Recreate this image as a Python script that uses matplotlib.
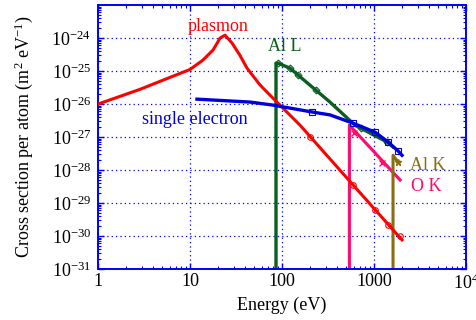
"""Inelastic cross sections per atom: plasmon, single electron and core edges."""

import math

import matplotlib

matplotlib.use("Agg")
import matplotlib.pyplot as plt
from matplotlib.ticker import FixedLocator, FuncFormatter, LogLocator, NullFormatter

plt.rcParams["font.family"] = ["Liberation Serif", "DejaVu Serif"]
plt.rcParams["mathtext.fontset"] = "custom"
plt.rcParams["mathtext.rm"] = "Liberation Serif"
plt.rcParams["mathtext.it"] = "Liberation Serif:italic"
plt.rcParams["axes.unicode_minus"] = False

# plasmon curve (eV, m^2/eV)
plasmon_e = [1.0, 2.86, 4.38, 6.53, 10.0, 13.8, 17.8, 21.2, 24.0, 28.6, 34.9,
             41.6, 57.6, 79.8, 157, 591, 2015]
plasmon_s = [1.0e-26, 2.8e-26, 4.5e-26, 7.0e-26, 1.12e-25, 2.15e-25, 4.35e-25,
             1.0e-24, 1.23e-24, 7.1e-25, 3.0e-25, 1.23e-25, 3.8e-26, 1.51e-26,
             2.29e-27, 3.55e-29, 7.6e-31]
plasmon_mk_e = [201, 591, 1025, 1419, 1918]
plasmon_mk_s = [1.0e-27, 3.55e-29, 6.2e-30, 2.14e-30, 1.0e-30]

# single-electron curve
single_e = [11.9, 44.9, 79.8, 212, 332, 591, 1025, 1419, 1824, 2015]
single_s = [1.41e-26, 1.15e-26, 9.3e-27, 5.75e-27, 4.7e-27, 2.63e-27,
            1.41e-27, 7.1e-28, 3.8e-28, 2.8e-28]
single_mk_e = [212, 591, 1025, 1419, 1824]
single_mk_s = [5.75e-27, 2.63e-27, 1.41e-27, 7.1e-28, 3.8e-28]

# Al L edge
all_e = [86, 86, 90, 122, 149, 234, 332, 621, 1383, 1609]
all_s = [1e-31, 1.74e-25, 1.74e-25, 1.23e-25, 7.6e-26, 2.63e-26, 1.15e-26,
         2.29e-27, 7.1e-28, 5.0e-28]
all_mk_e = [90, 122, 149, 234, 720, 1383]
all_mk_s = [1.74e-25, 1.23e-25, 7.6e-26, 2.63e-26, 1.9e-27, 7.1e-28]

# O K edge
ok_e = [540, 540, 1918]
ok_s = [1e-31, 2.29e-27, 5.0e-29]
ok_mk_e = [606, 1222]
ok_mk_s = [1.32e-27, 1.62e-28]

# Al K edge
alk_e = [1609, 1609, 1824]
alk_s = [1e-31, 2.8e-28, 1.74e-28]

BLUE = "#0000ff"
RED = "#ff0000"
LINE_BLUE = "#0000dd"
GREEN = "#0b5e1f"
PINK = "#ff0a6e"
OLIVE = "#8a6d12"

fig = plt.figure(figsize=(4.77, 3.2), dpi=100)
ax = fig.add_axes([0.2055, 0.1594, 0.7715, 0.8246])

ax.plot(plasmon_e, plasmon_s, color=RED, lw=2.2, zorder=3)
ax.plot(plasmon_mk_e, plasmon_mk_s, ls="none", marker="o", ms=4, mfc="none",
        mec=RED, mew=0.8, zorder=3)
ax.plot(single_e, single_s, color=LINE_BLUE, lw=2.4, zorder=3)
ax.plot(single_mk_e, single_mk_s, ls="none", marker="s", ms=5, mfc="none",
        mec=LINE_BLUE, mew=0.8, zorder=3)
ax.plot(all_e, all_s, color=GREEN, lw=2.4, zorder=2)
ax.plot(all_mk_e, all_mk_s, ls="none", marker="D", ms=3.5, mfc="none",
        mec=GREEN, mew=0.8, zorder=2)
ax.plot(ok_e, ok_s, color=PINK, lw=2.2, zorder=2)
ax.plot(ok_mk_e, ok_mk_s, ls="none", marker="x", ms=5, mec=PINK, mew=1, zorder=2)
ax.plot(alk_e, alk_s, color=OLIVE, lw=2.2, zorder=2)
ax.plot(alk_e[-1:], alk_s[-1:], ls="none", marker="*", ms=5, color=OLIVE, zorder=2)

ax.set_xscale("log")
ax.set_yscale("log")
ax.set_xlim(1, 1e4)
ax.set_ylim(1e-31, 1e-23)

ax.xaxis.set_major_locator(FixedLocator([1, 10, 100, 1000, 1e4]))
ax.xaxis.set_major_formatter(FuncFormatter(
    lambda v, p: r"$10^{4}$" if v >= 1e4 else f"{int(round(v))}"))
ax.yaxis.set_major_locator(FixedLocator([10.0 ** k for k in range(-31, -23)]))
ax.yaxis.set_major_formatter(FuncFormatter(
    lambda v, p: r"$10^{%d}$" % round(math.log10(v))))
for axis in (ax.xaxis, ax.yaxis):
    axis.set_minor_locator(LogLocator(base=10, subs=range(2, 10), numticks=20))
    axis.set_minor_formatter(NullFormatter())

ax.tick_params(which="both", direction="in", top=True, right=True,
               color=BLUE, labelsize=13, labelcolor="black")
ax.tick_params(which="major", length=4, width=1)
ax.tick_params(which="minor", length=2.5, width=0.8)
ax.tick_params(axis="x", pad=3)
ax.tick_params(axis="y", pad=5)
for sp in ax.spines.values():
    sp.set_color(BLUE)
    sp.set_linewidth(1.4)
ax.grid(True, which="major", color=BLUE, ls=(0, (1, 2.5)), lw=0.9)

ax.text(20.2, 2.3e-24, "plasmon", color=RED, fontsize=13, ha="center", va="center")
ax.text(70, 5.4e-25, "Al L", color=GREEN, fontsize=13, ha="left", va="center")
ax.text(11.3, 3.3e-27, "single electron", color=LINE_BLUE, fontsize=13,
        ha="center", va="center")
ax.text(2450, 1.4e-28, "Al K", color=OLIVE, fontsize=13, ha="left", va="center")
ax.text(2500, 3.2e-29, "O K", color=PINK, fontsize=13, ha="left", va="center")

ax.set_xlabel("Energy (eV)", fontsize=13, labelpad=3)
ax.set_ylabel(r"Cross section per atom (m$^2$ eV$^{-1}$)", fontsize=13, labelpad=12)

fig.savefig("out.png", dpi=100)
